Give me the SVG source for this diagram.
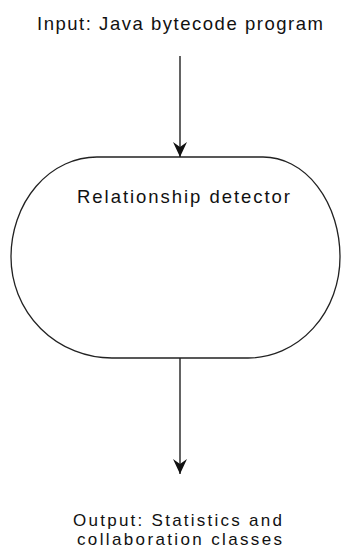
<svg xmlns="http://www.w3.org/2000/svg" width="341" height="553" viewBox="0 0 341 553">
<defs>
<style>
.t{font-family:"Liberation Sans",Arial,Helvetica,sans-serif;font-size:18.5px;fill:#111}
.o{font-size:17px}
.edge{stroke:#222;stroke-width:1.4;fill:none}
.shape{stroke:#222;stroke-width:1.3;fill:#fff}
</style>
<marker id="ah" viewBox="-16 -8 17 16" refX="0" refY="0" markerWidth="17" markerHeight="16" markerUnits="userSpaceOnUse" orient="auto">
<path d="M0,0 L-15,-7 L-10,0 L-15,7 Z" fill="#111"/>
</marker>
</defs>
<rect width="341" height="553" fill="#fff"/>
<g id="input">
<text class="t" x="37" y="30" textLength="286" lengthAdjust="spacing">Input: Java bytecode program</text>
</g>
<g id="detector">
<path class="shape" d="M97,157 L263,157 A77 100 0 0 1 340,257 A92 101 0 0 1 248,358 L112,358 A101 101 0 0 1 11,257 A86 100 0 0 1 97,157 Z"/>
<text class="t" x="77" y="203" textLength="213" lengthAdjust="spacing">Relationship detector</text>
</g>
<g id="output">
<text class="t o" x="73" y="526" textLength="209" lengthAdjust="spacing">Output: Statistics and</text>
<text class="t o" x="77" y="545" textLength="205" lengthAdjust="spacing">collaboration classes</text>
</g>
<g id="connectors">
<line class="edge" x1="180" y1="56" x2="180" y2="157" marker-end="url(#ah)"/>
<line class="edge" x1="180" y1="358" x2="180" y2="474" marker-end="url(#ah)"/>
</g>
</svg>
